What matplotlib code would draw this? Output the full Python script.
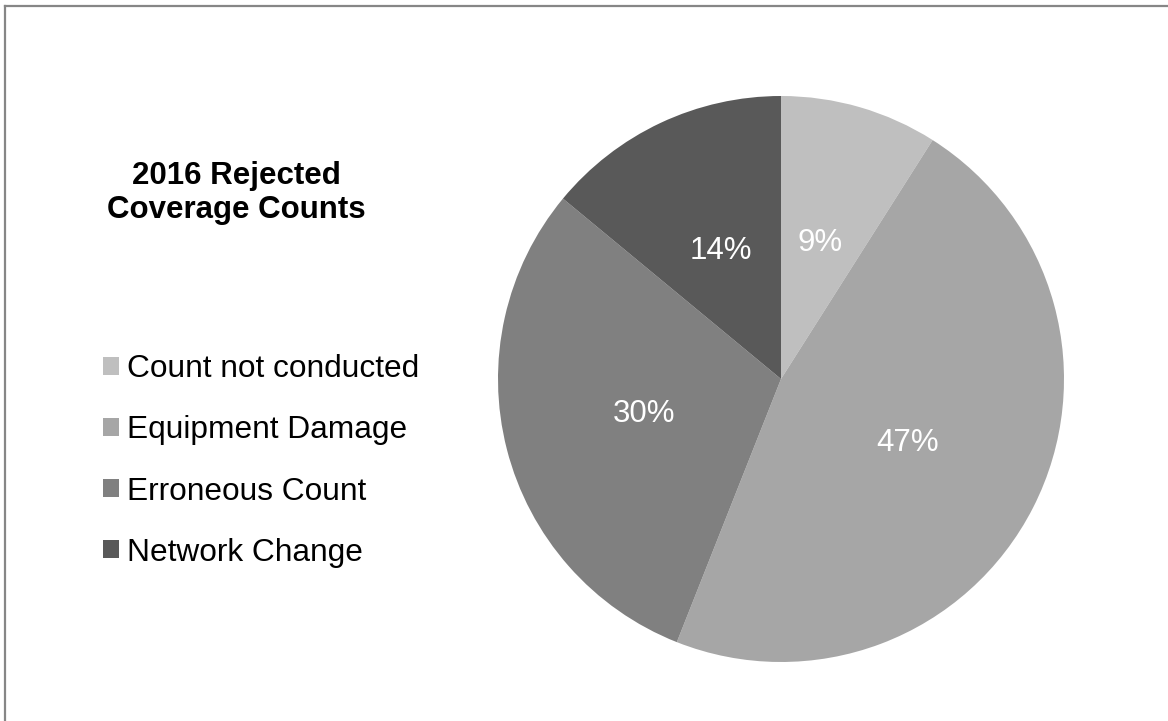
import matplotlib
matplotlib.use('Agg')
import matplotlib.pyplot as plt
from matplotlib.lines import Line2D

plt.rcParams['font.family'] = ['Liberation Sans', 'DejaVu Sans']

# Data
categorias = ['Count not conducted', 'Equipment Damage', 'Erroneous Count', 'Network Change']
porcentajes = [9, 47, 30, 14]
colores = ['#BFBFBF', '#A6A6A6', '#808080', '#595959']
titulo = '2016 Rejected\nCoverage Counts'

W, H = 1168, 721
fig = plt.figure(figsize=(W / 100, H / 100), dpi=100)

# Pie axes: center ~(781, 379) px, radius ~283 px
cx, cy, r = 781, 379, 283
ax = fig.add_axes([(cx - r) / W, (H - cy - r) / H, 2 * r / W, 2 * r / H])
wedges, textos, autotextos = ax.pie(
    porcentajes, colors=colores, startangle=90, counterclock=False,
    autopct='%1.0f%%', pctdistance=0.5, radius=1,
    wedgeprops=dict(linewidth=0),
    textprops=dict(color='white', fontsize=22.5))
ax.set_xlim(-1, 1)
ax.set_ylim(-1, 1)
ax.set_aspect('equal')
ax.axis('off')

# Title
fig.text(236 / W, 1 - 193 / H, titulo, ha='center', va='center',
         fontsize=22.5, fontweight='bold', linespacing=1.2)

# Legend
fig.legend(wedges, categorias, loc='center left',
           bbox_to_anchor=(103 / W, 1 - 461 / H), frameon=False,
           fontsize=22.8, handlelength=0.5, handleheight=0.5,
           handletextpad=0.25, labelspacing=0.98, borderpad=0,
           borderaxespad=0)

# Chart border (only top and left are visible)
fig.add_artist(Line2D([5 / W, 5 / W], [0, 1 - 6 / H], color='#868686', lw=1.6, transform=fig.transFigure))
fig.add_artist(Line2D([5 / W, 1], [1 - 6 / H, 1 - 6 / H], color='#868686', lw=1.6, transform=fig.transFigure))

fig.savefig('out.png', dpi=100)
